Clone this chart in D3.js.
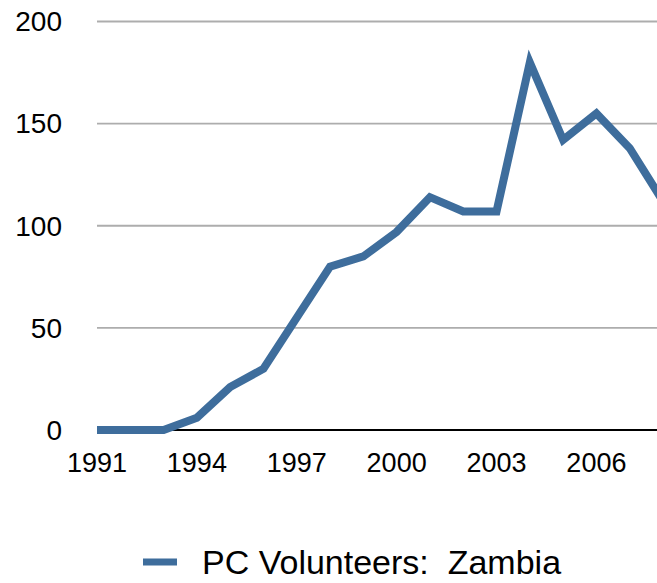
<!DOCTYPE html>
<html>
<head>
<meta charset="utf-8">
<script src="https://cdn.jsdelivr.net/npm/d3@7"></script>
<style>
  html, body { margin: 0; padding: 0; background: #fff; }
  svg { display: block; font-family: "Liberation Sans", Arial, Helvetica, sans-serif; }
</style>
</head>
<body>
<svg id="chart" width="657" height="583"></svg>
<script>
// Peace Corps volunteers in Zambia, by year
const years = [1991, 1992, 1993, 1994, 1995, 1996, 1997, 1998, 1999, 2000,
               2001, 2002, 2003, 2004, 2005, 2006, 2007, 2008];
const volunteers = [0, 0, 0, 6, 21, 30, 55, 80, 85, 97,
                    114, 107, 107, 180, 142, 155, 138, 112];
const yTicks = [0, 50, 100, 150, 200];
const xTickLabels = [1991, 1994, 1997, 2000, 2003, 2006];
const seriesName = "PC Volunteers:  Zambia";

const W = 657, H = 583;
const svg = d3.select("#chart");
const lineColor = "#3e6d9c";

const x = d3.scaleLinear().domain([1991, 2008]).range([97, 663]);
const y = d3.scaleLinear().domain([0, 200]).range([430, 21.5]);

// horizontal grid lines
svg.append("g")
  .selectAll("line")
  .data(yTicks.filter(d => d > 0))
  .join("line")
  .attr("x1", 97).attr("x2", W)
  .attr("y1", d => y(d)).attr("y2", d => y(d))
  .attr("stroke", "#adadad").attr("stroke-width", 1.8);

// y-axis labels
svg.append("g")
  .selectAll("text")
  .data(yTicks)
  .join("text")
  .attr("x", 62).attr("y", d => y(d))
  .attr("dy", "0.35em")
  .attr("text-anchor", "end")
  .attr("font-size", 28)
  .attr("fill", "#000")
  .text(d => d);

// baseline
svg.append("line")
  .attr("x1", 97).attr("x2", W)
  .attr("y1", y(0)).attr("y2", y(0))
  .attr("stroke", "#000").attr("stroke-width", 2);

// x-axis labels
svg.append("g")
  .selectAll("text")
  .data(xTickLabels)
  .join("text")
  .attr("x", d => x(d)).attr("y", 472)
  .attr("text-anchor", "middle")
  .attr("font-size", 27)
  .attr("fill", "#000")
  .text(d => d);

// data line
const line = d3.line()
  .x((d, i) => x(years[i]))
  .y(d => y(d));

svg.append("path")
  .datum(volunteers)
  .attr("d", line)
  .attr("fill", "none")
  .attr("stroke", lineColor)
  .attr("stroke-width", 8)
  .attr("stroke-linejoin", "miter")
  .attr("stroke-linecap", "butt");

// legend
svg.append("line")
  .attr("x1", 143).attr("x2", 177)
  .attr("y1", 562).attr("y2", 562)
  .attr("stroke", lineColor).attr("stroke-width", 7);

svg.append("text")
  .attr("x", 202).attr("y", 574)
  .attr("font-size", 34)
  .attr("fill", "#000")
  .style("white-space", "pre")
  .text(seriesName);
</script>
</body>
</html>
